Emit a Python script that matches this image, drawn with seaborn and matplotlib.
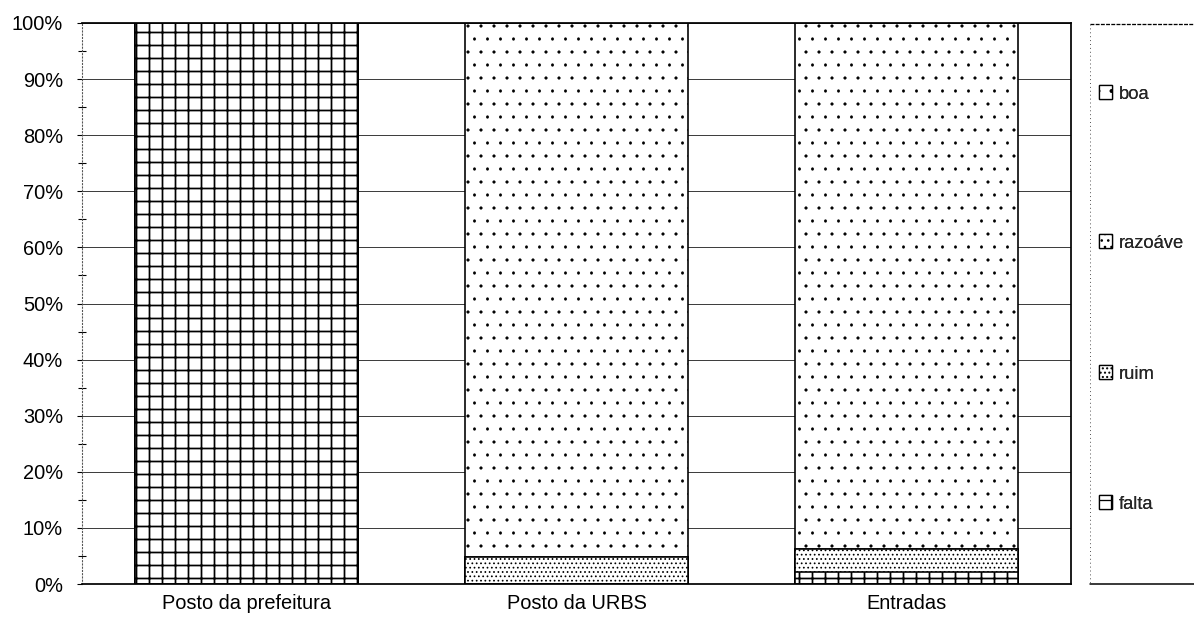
import matplotlib
matplotlib.use("Agg")
import numpy as np
import pandas as pd
import matplotlib.pyplot as plt
import seaborn as sns
from matplotlib.patches import Patch
from matplotlib.lines import Line2D
from matplotlib.ticker import MultipleLocator, PercentFormatter

# Survey answers per location (percent of responses)
locais = ["Posto da prefeitura", "Posto da URBS", "Entradas"]
falta = [100.0, 0.0, 2.1]
ruim = [0.0, 4.8, 4.2]
razoavel = [0.0, 0.0, 0.0]
boa = [0.0, 95.2, 93.7]

series = ["falta", "ruim", "razoáve", "boa"]          # bottom -> top
hatches = {"falta": "+", "ruim": "...", "razoáve": "..", "boa": "."}
hatch_lw = {"falta": 1.6, "ruim": 0.9, "razoáve": 0.5, "boa": 0.4}

sns.set_style("white")
plt.rcParams["font.family"] = ["Liberation Sans", "DejaVu Sans"]
plt.rcParams["hatch.color"] = "black"
plt.rcParams["hatch.linewidth"] = 1.2

DPI = 78
W, H = 1194, 625
fig = plt.figure(figsize=(W / DPI, H / DPI), dpi=DPI)
fig.patch.set_facecolor("white")
ax = fig.add_axes([82 / W, 1 - 584 / H, (1071 - 82) / W, (584 - 23) / H])

df = pd.DataFrame({"local": locais, "falta": falta, "ruim": ruim,
                   "razoáve": razoavel, "boa": boa})
cum = df[series].cumsum(axis=1)

ax.set_axisbelow(True)
ax.yaxis.grid(True, which="major", color="#222222", linewidth=0.8)

# stacked bars: draw cumulative totals from the top layer down
for name in reversed(series):
    n_before = len(ax.patches)
    sns.barplot(x=df["local"], y=cum[name], color="white", saturation=1,
                width=0.676, edgecolor="black", linewidth=1.5,
                hatch=hatches[name], errorbar=None, ax=ax)
    for p in ax.patches[n_before:]:
        if hasattr(p, "set_hatch_linewidth"):
            p.set_hatch_linewidth(hatch_lw[name])

ax.set_xlim(-0.5, 2.5)
ax.set_ylim(0, 100)
ax.yaxis.set_major_locator(MultipleLocator(10))
ax.yaxis.set_minor_locator(MultipleLocator(5))
ax.yaxis.set_major_formatter(PercentFormatter(decimals=0))
ax.set_xlabel("")
ax.set_ylabel("")

ax.tick_params(axis="y", which="major", left=True, direction="out",
               length=4.6, width=1, pad=13, labelsize=18.5, colors="black")
ax.tick_params(axis="y", which="minor", left=True, direction="inout",
               length=7, width=1, color="black")
ax.tick_params(axis="x", length=0, pad=9, labelsize=18.5, colors="black")

for side in ["top", "right", "bottom"]:
    ax.spines[side].set_color("black")
    ax.spines[side].set_linewidth(1.6)
ax.spines["left"].set_color("#555555")
ax.spines["left"].set_linewidth(1.0)
ax.spines["left"].set_linestyle((0, (1, 2)))

# legend frame on the right
lx = 1090 / W
fig.add_artist(Line2D([lx, 1.0], [1 - 24 / H] * 2, transform=fig.transFigure,
                      color="black", lw=1.2, linestyle=(0, (3, 1))))
fig.add_artist(Line2D([lx, 1.0], [1 - 584 / H] * 2, transform=fig.transFigure,
                      color="black", lw=1.4))
fig.add_artist(Line2D([lx, lx], [1 - 24 / H, 1 - 584 / H], transform=fig.transFigure,
                      color="#555555", lw=0.9, linestyle=(0, (1, 3))))

# one legend entry per series, top to bottom
legend_rows = {"boa": 94, "razoáve": 243, "ruim": 374, "falta": 504}
for name in reversed(series):
    h = Patch(facecolor="white", edgecolor="black", linewidth=1.2,
              hatch=hatches[name], label=name)
    leg = fig.legend(handles=[h], loc="center left",
                     bbox_to_anchor=(1099 / W, 1 - legend_rows[name] / H),
                     frameon=False, fontsize=17, handlelength=0.72,
                     handleheight=0.72, handletextpad=0.35, borderpad=0,
                     borderaxespad=0)
    fig.add_artist(leg)

fig.savefig("out.png", dpi=DPI, facecolor="white")
